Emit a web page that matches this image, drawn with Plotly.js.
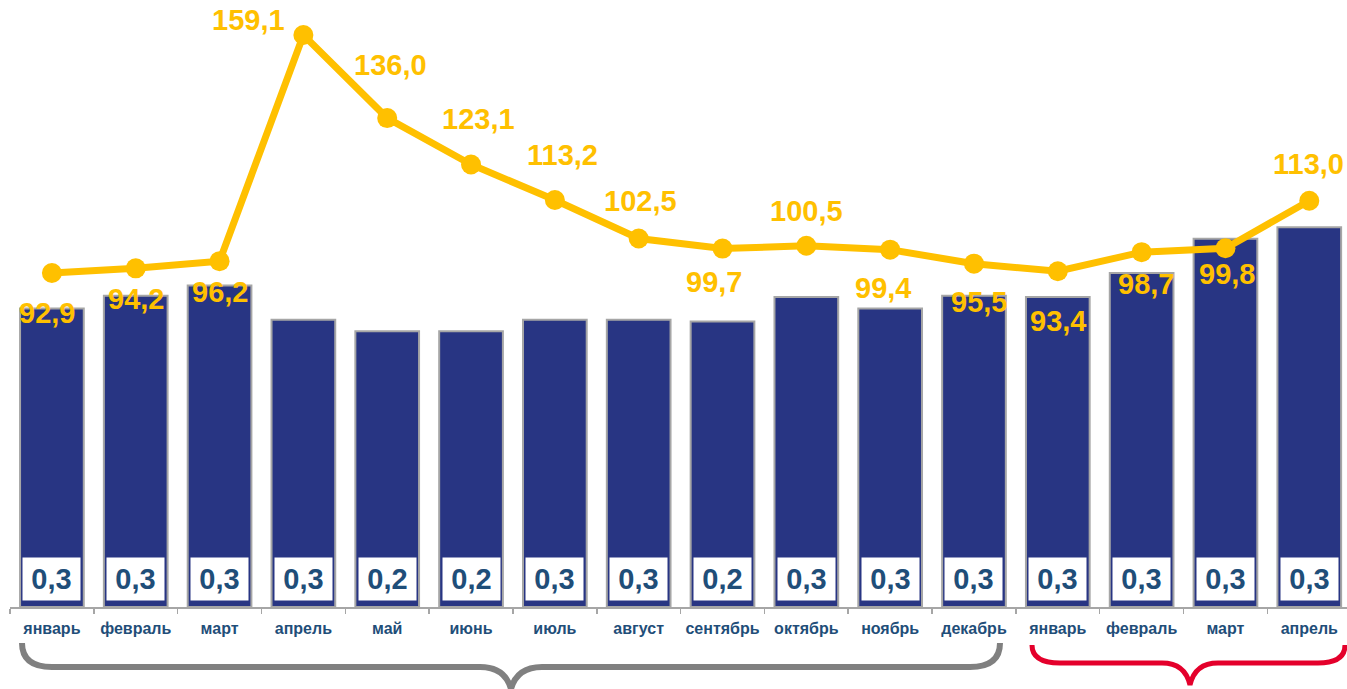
<!DOCTYPE html>
<html>
<head>
<meta charset="utf-8">
<script src="https://cdn.plot.ly/plotly-3.0.1.min.js"></script>
<style>html,body{margin:0;padding:0;background:#fff;}#chart{width:1347px;height:689px;}</style>
</head>
<body>
<div id="chart"></div>
<script>
// ---- data ----
const months = ['январь','февраль','март','апрель','май','июнь','июль','август','сентябрь','октябрь','ноябрь','декабрь','январь','февраль','март','апрель'];
const barValues = [0.261,0.272,0.281,0.251,0.241,0.241,0.251,0.251,0.2495,0.271,0.261,0.272,0.271,0.292,0.322,0.332];
const lineValues = [92.9,94.2,96.2,159.1,136.0,123.1,113.2,102.5,99.7,100.5,99.4,95.5,93.4,98.7,99.8,113.0];

// ---- label placement (style, px offsets from point) ----
const lineLabelOffsets = [[-5,40],[0,31],[0,31],[-55,-15],[3,-53],[7,-45],[8,-45],[2,-38],[-9,33],[0,-35],[-7,38],[5,38],[0,50],[4,32],[2,26],[-1,-37]];

const idx = months.map((_, i) => i);
const fmt = v => v.toFixed(1).replace('.', ',');

const plotL = 10, plotT = 20, plotW = 1337, plotH = 587;
const px = x => ((x - plotL) / plotW).toFixed(5);
const py = y => ((plotT + plotH - y) / plotH).toFixed(5);
function pathFrom(pts) {
  return pts.map(s => s[0] + ' ' + s.slice(1).map((v, k) => (k % 2 === 0 ? px(v) : py(v))).join(' ')).join(' ');
}

const traces = [
  {
    type: 'bar', x: idx, y: barValues,
    marker: {color: '#283583', line: {color: '#a6a6a6', width: 2}},
    hoverinfo: 'skip'
  },
  {
    type: 'scatter', mode: 'lines+markers', x: idx, y: lineValues, yaxis: 'y2',
    line: {color: '#FFC000', width: 7},
    marker: {color: '#FFC000', size: 20},
    hoverinfo: 'skip'
  },
  {
    type: 'scatter', mode: 'none', x: [-0.5], y: [0], xaxis: 'x2', hoverinfo: 'skip', showlegend: false
  }
];

const annotations = [];
barValues.forEach((v, i) => {
  annotations.push({
    xref: 'x', yref: 'paper', x: i, y: 28 / plotH, yanchor: 'middle',
    text: fmt(v), showarrow: false,
    font: {family: 'Liberation Sans, Arial, sans-serif', size: 29, color: '#1f4e79', weight: 700},
    bgcolor: '#ffffff', width: 57, height: 42, borderpad: 0
  });
});
lineValues.forEach((v, i) => {
  annotations.push({
    xref: 'x', yref: 'y2', x: i, y: v,
    xshift: lineLabelOffsets[i][0], yshift: -lineLabelOffsets[i][1],
    text: fmt(v), showarrow: false,
    font: {family: 'Liberation Sans, Arial, sans-serif', size: 29, color: '#FFC000', weight: 700}
  });
});

const grayBrace = pathFrom([['M',22,643],['Q',22,667,52,667],['L',480,667],['Q',505,667,511,689],['Q',517,667,542,667],['L',970,667],['Q',1000,667,1000,643]]);
const redBrace = pathFrom([['M',1032,645],['Q',1032,663,1060,663],['L',1162,663],['Q',1185,663,1190,685],['Q',1195,663,1218,663],['L',1318,663],['Q',1345,663,1345,645]]);

const layout = {
  width: 1347, height: 689,
  margin: {l: plotL, r: 0, t: plotT, b: 689 - plotT - plotH, pad: 0},
  paper_bgcolor: '#ffffff', plot_bgcolor: '#ffffff',
  showlegend: false,
  bargap: 0.24,
  xaxis: {
    range: [-0.5, 15.45], tickvals: idx, ticktext: months,
    ticks: 'outside', ticklen: 7, tickcolor: 'rgba(0,0,0,0)',
    showgrid: false, zeroline: false, showline: false, fixedrange: true,
    tickfont: {family: 'Liberation Sans, Arial, sans-serif', size: 16, color: '#1f4e79', weight: 700}
  },
  xaxis2: {
    overlaying: 'x', anchor: 'y', side: 'bottom',
    range: [-0.5, 15.45], tickvals: idx.concat([16]).map(i => i - 0.5), showticklabels: false,
    ticks: 'outside', ticklen: 5, tickwidth: 1.5, tickcolor: '#a6a6a6',
    showline: true, linecolor: '#a6a6a6', linewidth: 2,
    showgrid: false, zeroline: false
  },
  yaxis: {range: [0, plotH / 1144], visible: false, showgrid: false, zeroline: false},
  yaxis2: {range: [0, plotH / 3.595], overlaying: 'y', visible: false, showgrid: false, zeroline: false},
  annotations: annotations,
  shapes: [
    {type: 'path', xref: 'paper', yref: 'paper', path: grayBrace, line: {color: '#808080', width: 6}},
    {type: 'path', xref: 'paper', yref: 'paper', path: redBrace, line: {color: '#e4002b', width: 5}}
  ]
};

Plotly.newPlot('chart', traces, layout, {staticPlot: true});
</script>
</body>
</html>
